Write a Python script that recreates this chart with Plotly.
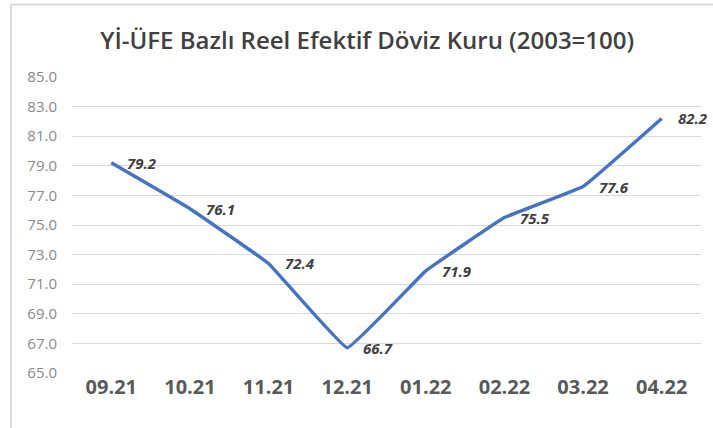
import plotly.graph_objects as go

categories = ["09.21", "10.21", "11.21", "12.21", "01.22", "02.22", "03.22", "04.22"]
values = [79.2, 76.1, 72.4, 66.7, 71.9, 75.5, 77.6, 82.2]
y_ticks = [65, 67, 69, 71, 73, 75, 77, 79, 81, 83, 85]
title_text = "Yİ-ÜFE Bazlı Reel Efektif Döviz Kuru (2003=100)"

fig = go.Figure()
fig.add_trace(go.Scatter(
    x=list(range(len(categories))), y=values, mode="lines",
    line=dict(color="#4472C4", width=3.4, shape="spline", smoothing=0.2),
    hoverinfo="y", showlegend=False,
))

for i, v in enumerate(values):
    fig.add_annotation(
        x=i, y=v, text=f"{v:.1f}", showarrow=False,
        xanchor="left", yanchor="middle", xshift=14,
        font=dict(family="Open Sans", size=15, color="#404040", weight="bold", style="italic"),
    )

fig.update_layout(
    width=713, height=428,
    margin=dict(l=72, r=12, t=77, b=55),
    paper_bgcolor="white", plot_bgcolor="white",
    title=dict(text=title_text, x=0.515, xref="container", xanchor="center", y=0.905, yanchor="middle",
               font=dict(family="Open Sans", size=24, color="#404040", weight=600)),
    xaxis=dict(showgrid=False, showline=False, zeroline=False, ticks="",
               tickvals=list(range(len(categories))), ticktext=categories,
               tickfont=dict(family="Open Sans", size=20, color="#595959", weight="bold"),
               range=[-0.5, len(categories) - 0.5], fixedrange=True),
    yaxis=dict(range=[65, 85], tickvals=y_ticks, ticktext=[f"{t:.1f}" for t in y_ticks],
               showgrid=True, gridcolor="#d9d9d9", gridwidth=1.3, zeroline=False, showline=False,
               ticks="", ticklabelstandoff=14,
               tickfont=dict(family="Open Sans", size=15, color="#8a8a8a")),
    shapes=[
        dict(type="line", xref="paper", yref="paper", x0=-0.097, x1=-0.097, y0=1.245, y1=-0.3,
             line=dict(color="#d0d0d0", width=1.5)),
        dict(type="line", xref="paper", yref="paper", x0=-0.097, x1=1.05, y0=1.245, y1=1.245,
             line=dict(color="#d0d0d0", width=1.5)),
    ],
)

fig.write_html("out.html", config={"displayModeBar": False},
               post_script="document.body.style.margin='0';document.body.style.overflow='hidden';")
